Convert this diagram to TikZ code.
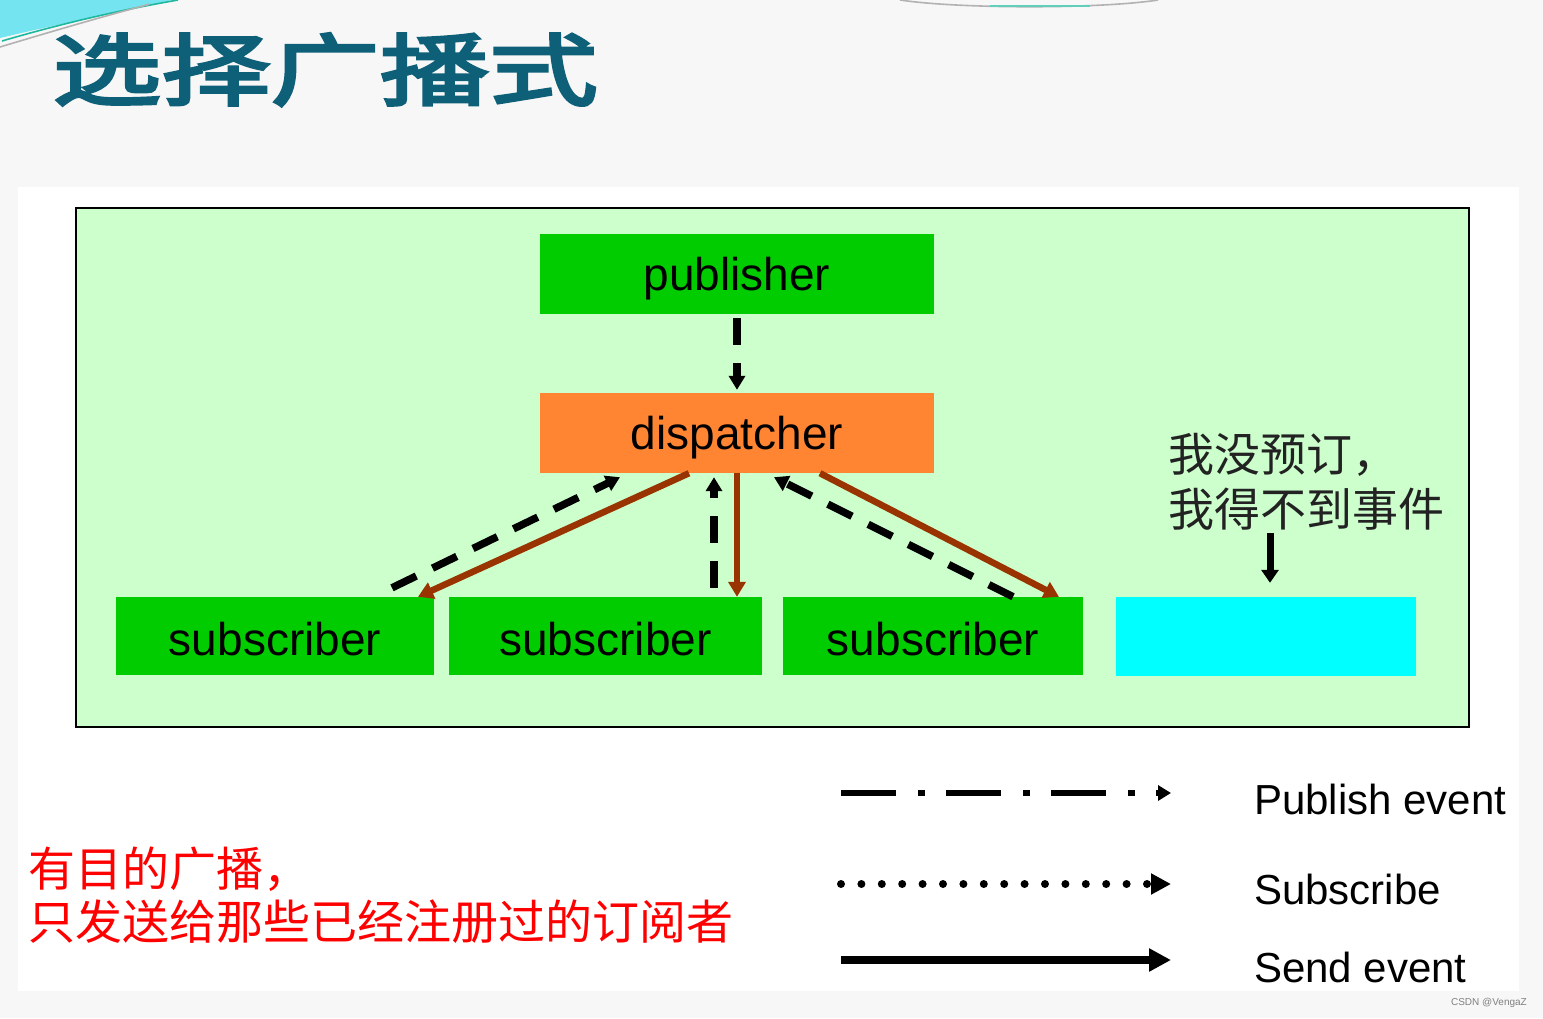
\documentclass[tikz,border=0pt]{standalone}
\usepackage{fontspec}
\setmainfont{Liberation Sans}
\newfontfamily\cjk{Noto Sans CJK SC}
\newfontfamily\titlefont[FakeStretch=1.4,FakeBold=4]{Noto Sans CJK SC}
\usetikzlibrary{arrows.meta}
\definecolor{bgpat}{HTML}{F7F7F7}
\definecolor{panelgreen}{HTML}{CCFFCC}
\definecolor{boxgreen}{HTML}{00CC00}
\definecolor{boxorange}{HTML}{FF8533}
\definecolor{boxcyan}{HTML}{00FFFF}
\definecolor{sendbrown}{HTML}{993300}
\definecolor{titleteal}{HTML}{0E6079}
\definecolor{decocyan}{HTML}{74E4F0}
\definecolor{decoteal}{HTML}{1DB89E}
\definecolor{notegray}{HTML}{222222}
\newcommand{\lowertext}[2]{\raisebox{-#1}[\height][\depth]{#2}}
\begin{document}
\begin{tikzpicture}[x=1pt,y=-1pt,
  box/.style={rectangle, inner sep=0pt, text=black, font=\fontsize{46}{50}\selectfont},
  pubarrow/.style={line width=7.5pt, dash pattern=on 27pt off 18pt, -{Triangle[length=14pt,width=16pt]}},
  sendarrow/.style={draw=sendbrown, line width=6.5pt, -{Triangle[length=15pt,width=17pt]}},
  legendtext/.style={anchor=base west, inner sep=0pt, font=\fontsize{42}{46}\selectfont},
  redtext/.style={anchor=base west, inner sep=0pt, text=red, font=\cjk\fontsize{47}{50}\selectfont},
  notetext/.style={anchor=base west, inner sep=0pt, text=notegray, font=\cjk\fontsize{46}{50}\selectfont}]
\useasboundingbox (0,0) rectangle (1543,1018);
% background
\fill[bgpat] (0,0) rectangle (1543,1018);
\fill[white] (18,187) rectangle (1519,991);
% decorations
\fill[decocyan] (0,0) -- (172,0) .. controls (110,14) and (50,26) .. (0,38) -- cycle;
\draw[decoteal, line width=1.6pt] (2,41) .. controls (60,24) and (120,10) .. (178,0);
\draw[gray!60, line width=1.6pt] (0,47) .. controls (40,35) and (90,20) .. (150,4);
\draw[gray!60, line width=1.6pt] (900,0) .. controls (960,9) and (1100,9) .. (1158,0);
\draw[decoteal!70, line width=2pt] (990,5.5) -- (1090,5.5);
% title
\node[anchor=base west, inner sep=0pt, text=titleteal, font=\titlefont\fontsize{78}{80}\selectfont] (title) at (52,99) {选择广播式};
% frame
\node[rectangle, draw=black, line width=1.8pt, fill=panelgreen, minimum width=1393pt, minimum height=519pt, inner sep=0pt] (frame) at (772.5,467.5) {};
% boxes
\node[box, fill=boxgreen, minimum width=394pt, minimum height=80pt] (pub) at (737,274) {\lowertext{5pt}{publisher}};
\node[box, fill=boxorange, minimum width=394pt, minimum height=80pt] (disp) at (737,433) {\lowertext{5pt}{dispatcher}};
\node[box, fill=boxgreen, minimum width=318pt, minimum height=78pt] (sub1) at (275,636) {\lowertext{3pt}{subscriber}};
\node[box, fill=boxgreen, minimum width=313pt, minimum height=78pt] (sub2) at (605.5,636) {\lowertext{3pt}{subscriber}};
\node[box, fill=boxgreen, minimum width=300pt, minimum height=78pt] (sub3) at (933,636) {\lowertext{3pt}{subscriber}};
\node[box, fill=boxcyan, minimum width=300pt, minimum height=79pt] (none) at (1266,636.5) {};
% publish
\draw[pubarrow, shorten <=4pt, shorten >=3pt] (pub.south) -- (disp.north);
% subscribe (dashed, up)
\draw[pubarrow] ([xshift=117pt,yshift=9pt]sub1.north) -- ([xshift=-117pt,yshift=-4pt]disp.south);
\draw[pubarrow] ([xshift=108.5pt,yshift=9pt]sub2.north) -- ([xshift=-23pt,yshift=-4pt]disp.south);
\draw[pubarrow] ([xshift=80pt]sub3.north) -- ([xshift=37pt,yshift=-4pt]disp.south);
% send (brown)
\draw[sendarrow] ([xshift=-48pt]disp.south) -- ([xshift=143pt]sub1.north);
\draw[sendarrow] (disp.south) -- (disp.south |- sub2.north);
\draw[sendarrow] ([xshift=83pt]disp.south) -- ([xshift=126pt]sub3.north);
% note
\node[notetext] (note1) at (1168,471) {我没预订，};
\node[notetext] (note2) at (1168,526) {我得不到事件};
\coordinate (na) at (1270,533);
\draw[line width=7pt, -{Triangle[length=13pt,width=17pt]}] (na) -- ([xshift=4pt,yshift=14pt]none.north);
% red text
\node[redtext] (red1) at (28,886) {有目的广播，};
\node[redtext] (red2) at (28,939) {只发送给那些已经注册过的订阅者};
% legend
\coordinate (l1a) at (841,793); \coordinate (l1b) at (1171,793);
\coordinate (l2a) at (841,884); \coordinate (l2b) at (1171,884);
\coordinate (l3a) at (841,960); \coordinate (l3b) at (1171,960);
\draw[line width=5.5pt, dash pattern=on 55pt off 22pt on 7pt off 21pt, -{Triangle[length=13pt,width=15pt]}] (l1a) -- (l1b);
\draw[line width=8pt, line cap=round, dash pattern=on 0pt off 20.4pt, -{Triangle[length=20pt,width=20pt]}] (l2a) -- (l2b);
\draw[line width=8pt, -{Triangle[length=22pt,width=22pt]}] (l3a) -- (l3b);
\node[legendtext] (lt1) at (1254,814) {Publish event};
\node[legendtext] (lt2) at (1254,904) {Subscribe};
\node[legendtext] (lt3) at (1254,982) {Send event};
% watermark
\node[anchor=base east, inner sep=0pt, text=gray, font=\fontsize{10}{12}\selectfont] (wm) at (1527,1005) {CSDN @VengaZ};
\end{tikzpicture}
\end{document}
